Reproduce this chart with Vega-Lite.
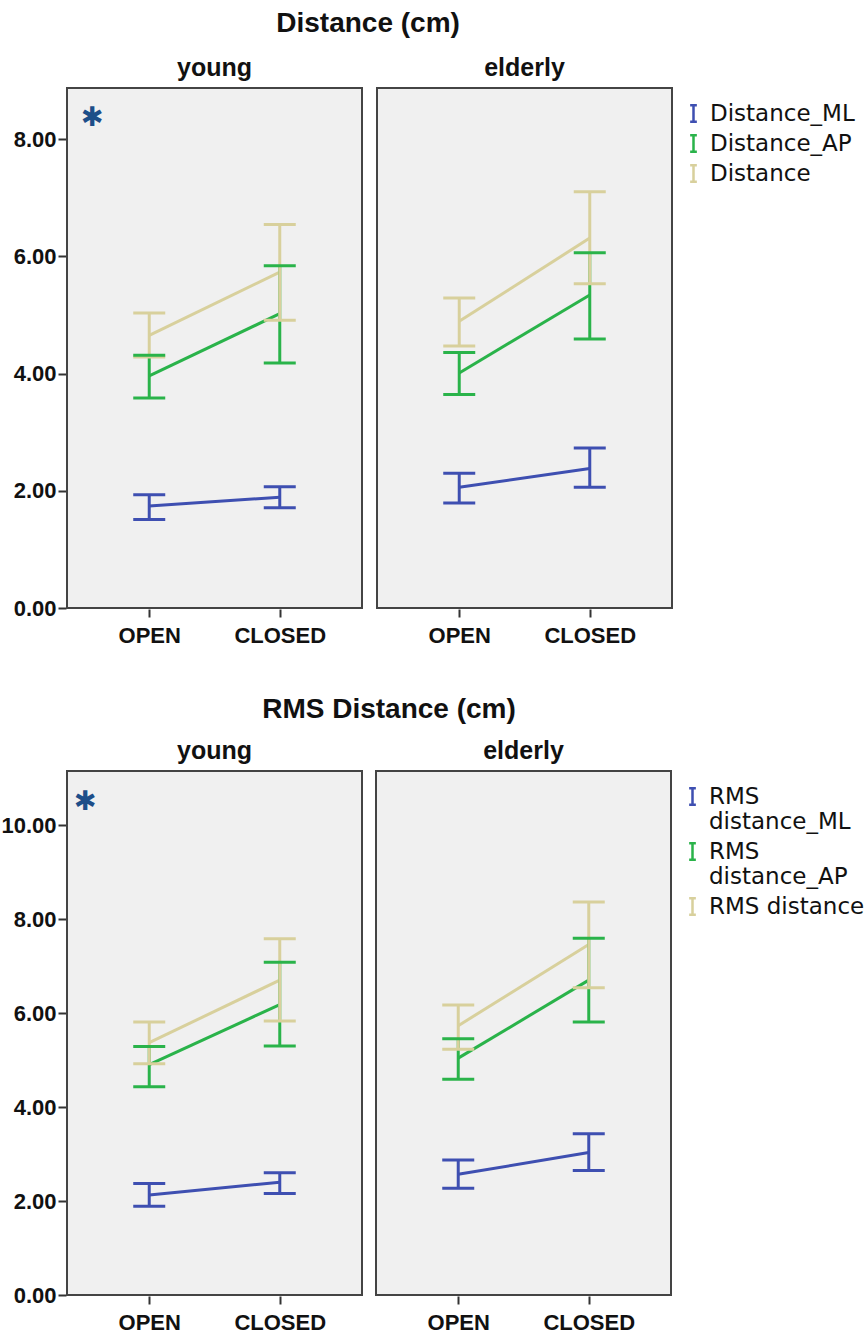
{
  "$schema": "https://vega.github.io/schema/vega-lite/v6.json",
  "padding": {"left": 0, "top": 10, "right": 5, "bottom": 5},
  "background": "white",
  "config": {
    "font": "Liberation Sans",
    "view": {"fill": "#f0f0f0", "stroke": "#444444", "strokeWidth": 2},
    "tick": {"opacity": 1},
    "axis": {"labelFont": "Liberation Sans", "labelFontWeight": "bold", "labelFontSize": 22, "labelColor": "#111111", "tickColor": "#333333", "tickWidth": 2, "tickSize": 8, "domain": false, "grid": false, "title": null},
    "legend": {"labelFont": "DejaVu Sans", "labelFontSize": 23, "labelColor": "#111111", "title": null},
    "header": {"labelFont": "Liberation Sans", "labelFontSize": 25, "labelFontWeight": "bold", "labelColor": "#111111", "title": null},
    "title": {"font": "Liberation Sans", "fontSize": 28, "fontWeight": "bold", "color": "#111111"}
  },
  "datasets": {
    "dist": [
      {"group": "young", "cond": "OPEN", "measure": "Distance_ML", "mean": 1.74, "lower": 1.51, "upper": 1.93},
      {"group": "young", "cond": "CLOSED", "measure": "Distance_ML", "mean": 1.89, "lower": 1.71, "upper": 2.07},
      {"group": "young", "cond": "OPEN", "measure": "Distance_AP", "mean": 3.96, "lower": 3.58, "upper": 4.31},
      {"group": "young", "cond": "CLOSED", "measure": "Distance_AP", "mean": 5.02, "lower": 4.18, "upper": 5.84},
      {"group": "young", "cond": "OPEN", "measure": "Distance", "mean": 4.65, "lower": 4.28, "upper": 5.03},
      {"group": "young", "cond": "CLOSED", "measure": "Distance", "mean": 5.73, "lower": 4.91, "upper": 6.54},
      {"group": "elderly", "cond": "OPEN", "measure": "Distance_ML", "mean": 2.06, "lower": 1.79, "upper": 2.30},
      {"group": "elderly", "cond": "CLOSED", "measure": "Distance_ML", "mean": 2.38, "lower": 2.06, "upper": 2.73},
      {"group": "elderly", "cond": "OPEN", "measure": "Distance_AP", "mean": 4.01, "lower": 3.64, "upper": 4.36},
      {"group": "elderly", "cond": "CLOSED", "measure": "Distance_AP", "mean": 5.34, "lower": 4.59, "upper": 6.06},
      {"group": "elderly", "cond": "OPEN", "measure": "Distance", "mean": 4.89, "lower": 4.47, "upper": 5.29},
      {"group": "elderly", "cond": "CLOSED", "measure": "Distance", "mean": 6.31, "lower": 5.53, "upper": 7.10},
      {"group": "young", "cond": "OPEN", "note": "*", "mean": 8.36}
    ],
    "rms": [
      {"group": "young", "cond": "OPEN", "measure": "RMS distance_ML", "mean": 2.13, "lower": 1.89, "upper": 2.37},
      {"group": "young", "cond": "CLOSED", "measure": "RMS distance_ML", "mean": 2.40, "lower": 2.16, "upper": 2.60},
      {"group": "young", "cond": "OPEN", "measure": "RMS distance_AP", "mean": 4.90, "lower": 4.43, "upper": 5.29},
      {"group": "young", "cond": "CLOSED", "measure": "RMS distance_AP", "mean": 6.18, "lower": 5.30, "upper": 7.08},
      {"group": "young", "cond": "OPEN", "measure": "RMS distance", "mean": 5.37, "lower": 4.92, "upper": 5.81},
      {"group": "young", "cond": "CLOSED", "measure": "RMS distance", "mean": 6.70, "lower": 5.83, "upper": 7.58},
      {"group": "elderly", "cond": "OPEN", "measure": "RMS distance_ML", "mean": 2.57, "lower": 2.27, "upper": 2.87},
      {"group": "elderly", "cond": "CLOSED", "measure": "RMS distance_ML", "mean": 3.03, "lower": 2.65, "upper": 3.43},
      {"group": "elderly", "cond": "OPEN", "measure": "RMS distance_AP", "mean": 5.04, "lower": 4.59, "upper": 5.45},
      {"group": "elderly", "cond": "CLOSED", "measure": "RMS distance_AP", "mean": 6.70, "lower": 5.81, "upper": 7.59},
      {"group": "elderly", "cond": "OPEN", "measure": "RMS distance", "mean": 5.73, "lower": 5.23, "upper": 6.17},
      {"group": "elderly", "cond": "CLOSED", "measure": "RMS distance", "mean": 7.46, "lower": 6.54, "upper": 8.36},
      {"group": "young", "cond": "OPEN", "note": "*", "mean": 10.49}
    ]
  },
  "vconcat": [
    {
      "data": {"name": "dist"},
      "title": {"text": "Distance (cm)", "anchor": "middle", "offset": 18, "dx": -73},
      "facet": {"column": {"field": "group", "type": "nominal", "sort": ["young", "elderly"], "header": {"labelPadding": 6}}},
      "spacing": 13,
      "spec": {
        "width": 295,
        "height": 520,
        "encoding": {
          "x": {"field": "cond", "type": "nominal", "sort": ["OPEN", "CLOSED"], "scale": {"type": "point", "padding": 0.63}, "axis": {"labelAngle": 0, "labelPadding": 8}},
          "color": {"field": "measure", "type": "nominal", "scale": {"domain": ["Distance_ML", "Distance_AP", "Distance"], "range": ["#3e4fb1", "#2ab34a", "#d8d09c"]},
            "legend": {"symbolType": "M-0.4,-1H0.4M0,-1V1M-0.4,1H0.4", "symbolSize": 280, "symbolStrokeWidth": 2.5, "symbolOpacity": 1, "symbolFillColor": "transparent", "rowPadding": 3, "labelOffset": 5, "padding": 14, "offset": -5}}
        },
        "layer": [
          {"transform": [{"filter": "!datum.note"}], "mark": {"type": "line", "strokeWidth": 3}, "encoding": {"y": {"field": "mean", "type": "quantitative", "scale": {"domain": [0, 8.87], "nice": false, "zero": true}, "axis": {"values": [0, 2, 4, 6, 8], "format": ".2f", "labelPadding": 2}}}},
          {"transform": [{"filter": "!datum.note"}], "mark": {"type": "rule", "strokeWidth": 3}, "encoding": {"y": {"field": "lower", "type": "quantitative"}, "y2": {"field": "upper"}}},
          {"transform": [{"filter": "!datum.note"}], "mark": {"type": "tick", "size": 32, "thickness": 3, "opacity": 1}, "encoding": {"y": {"field": "lower", "type": "quantitative"}}},
          {"transform": [{"filter": "!datum.note"}], "mark": {"type": "tick", "size": 32, "thickness": 3, "opacity": 1}, "encoding": {"y": {"field": "upper", "type": "quantitative"}}},
          {"transform": [{"filter": "datum.note"}], "mark": {"type": "text", "font": "DejaVu Sans", "fontSize": 27, "fontWeight": "bold", "dx": -57, "baseline": "middle"}, "encoding": {"y": {"field": "mean", "type": "quantitative"}, "text": {"value": "✱"}, "color": {"value": "#1d4e89"}}}
        ]
      }
    },
    {
      "data": {"name": "rms"},
      "title": {"text": "RMS Distance (cm)", "anchor": "middle", "offset": 15, "dx": -51},
      "facet": {"column": {"field": "group", "type": "nominal", "sort": ["young", "elderly"], "header": {"labelPadding": 6}}},
      "spacing": 12,
      "spec": {
        "width": 295,
        "height": 524,
        "encoding": {
          "x": {"field": "cond", "type": "nominal", "sort": ["OPEN", "CLOSED"], "scale": {"type": "point", "padding": 0.63}, "axis": {"labelAngle": 0, "labelPadding": 8}},
          "color": {"field": "measure", "type": "nominal", "scale": {"domain": ["RMS distance_ML", "RMS distance_AP", "RMS distance"], "range": ["#3e4fb1", "#2ab34a", "#d8d09c"]},
            "legend": {"symbolType": "M-0.4,-1H0.4M0,-1V1M-0.4,1H0.4", "symbolSize": 280, "symbolStrokeWidth": 2.5, "symbolOpacity": 1, "symbolFillColor": "transparent", "rowPadding": 4, "labelOffset": 5, "padding": 14, "offset": -5, "labelExpr": "datum.label == 'RMS distance' ? datum.label : split(datum.label, ' ')"}}
        },
        "layer": [
          {"transform": [{"filter": "!datum.note"}], "mark": {"type": "line", "strokeWidth": 3}, "encoding": {"y": {"field": "mean", "type": "quantitative", "scale": {"domain": [0, 11.15], "nice": false, "zero": true}, "axis": {"values": [0, 2, 4, 6, 8, 10], "format": ".2f", "labelPadding": 2}}}},
          {"transform": [{"filter": "!datum.note"}], "mark": {"type": "rule", "strokeWidth": 3}, "encoding": {"y": {"field": "lower", "type": "quantitative"}, "y2": {"field": "upper"}}},
          {"transform": [{"filter": "!datum.note"}], "mark": {"type": "tick", "size": 32, "thickness": 3, "opacity": 1}, "encoding": {"y": {"field": "lower", "type": "quantitative"}}},
          {"transform": [{"filter": "!datum.note"}], "mark": {"type": "tick", "size": 32, "thickness": 3, "opacity": 1}, "encoding": {"y": {"field": "upper", "type": "quantitative"}}},
          {"transform": [{"filter": "datum.note"}], "mark": {"type": "text", "font": "DejaVu Sans", "fontSize": 27, "fontWeight": "bold", "dx": -64, "baseline": "middle"}, "encoding": {"y": {"field": "mean", "type": "quantitative"}, "text": {"value": "✱"}, "color": {"value": "#1d4e89"}}}
        ]
      }
    }
  ],
  "spacing": 50,
  "resolve": {"scale": {"color": "independent", "y": "independent"}, "legend": {"color": "independent"}}
}
